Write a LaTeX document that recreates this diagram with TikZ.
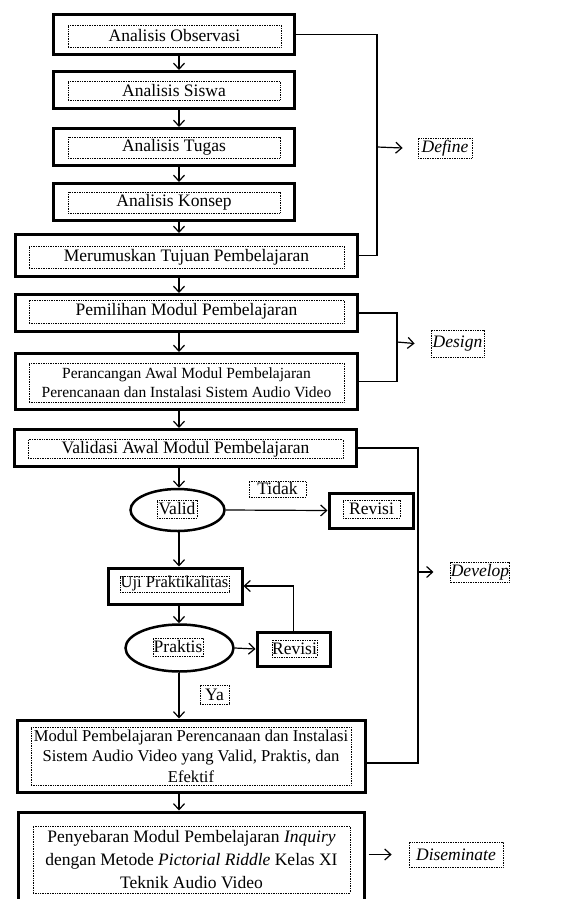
\documentclass[tikz,border=0pt]{standalone}
\usepackage{fontspec}
\setmainfont{Liberation Serif}
\usetikzlibrary{shapes.geometric,arrows.meta}

\begin{document}
\begin{tikzpicture}[x=1pt,y=-1pt,
    box/.style={rectangle,draw=black,line width=3pt,inner sep=0pt},
    txt/.style={rectangle,draw=black,line width=0.8pt,dash pattern=on 0.8pt off 0.9pt,inner sep=0pt,align=center,font=\fontsize{17.5}{20}\selectfont},
    dec/.style={ellipse,draw=black,line width=2.5pt,inner sep=0pt},
    phase/.style={txt,font=\fontsize{17.5}{20}\selectfont\itshape},
    arrow/.style={-{Straight Barb[length=6pt,width=11pt]},line width=1.2pt},
    line/.style={line width=1.2pt}
]
\clip (0,0) rectangle (575,899);
\fill[white] (0,0) rectangle (575,899);
\coordinate (axis) at (179,0);

% define
\node[box,minimum width=241pt,minimum height=40pt] (obs) at (174,34.5) {};
\node[txt,minimum width=213pt,minimum height=22pt] (obsT) at (174.5,36) {Analisis Observasi};
\node[box,minimum width=241pt,minimum height=37pt] (siswa) at (174,90) {};
\node[txt,minimum width=212pt,minimum height=19pt] (siswaT) at (174,90.5) {Analisis Siswa};
\node[box,minimum width=241pt,minimum height=37pt] (tugas) at (174,147) {};
\node[txt,minimum width=212pt,minimum height=21pt] (tugasT) at (174,147.5) {Analisis Tugas};
\node[box,minimum width=241pt,minimum height=37pt] (konsep) at (174,202) {};
\node[txt,minimum width=212pt,minimum height=21pt] (konsepT) at (174,202.5) {Analisis Konsep};
\node[box,minimum width=342pt,minimum height=42pt] (tujuan) at (186.5,255.5) {};
\node[txt,minimum width=315pt,minimum height=22pt] (tujuanT) at (186.5,257) {Merumuskan Tujuan Pembelajaran};

% design
\node[box,minimum width=342pt,minimum height=37pt] (pilih) at (186.5,313) {};
\node[txt,minimum width=315pt,minimum height=23pt] (pilihT) at (186.5,311.5) {Pemilihan Modul Pembelajaran};
\node[box,minimum width=342pt,minimum height=56pt] (rancang) at (186.5,381.5) {};
\node[txt,minimum width=315pt,minimum height=39pt,font=\fontsize{15.5}{19}\selectfont] (rancangT) at (186.5,382.5)
    {Perancangan Awal  Modul Pembelajaran\\Perencanaan dan Instalasi Sistem Audio Video};

% develop
\node[box,minimum width=342pt,minimum height=37pt] (validasi) at (185.5,448) {};
\node[txt,minimum width=315pt,minimum height=19pt] (validasiT) at (185.5,449) {Validasi Awal  Modul Pembelajaran};
\node[dec,minimum width=94pt,minimum height=42pt] (valid) at (177.5,510) {};
\node[txt,minimum width=40pt,minimum height=18pt] (validT) at (177,509) {Valid};
\node[txt,minimum width=57pt,minimum height=16pt] (tidak) at (277.5,489) {Tidak};
\node[box,minimum width=84pt,minimum height=35pt] (revisi1) at (371,510.5) {};
\node[txt,minimum width=57pt,minimum height=18pt] (revisi1T) at (371.5,509) {Revisi};
\node[box,minimum width=134pt,minimum height=36pt] (uji) at (175,586) {};
\node[txt,minimum width=109pt,minimum height=16pt,font=\fontsize{16.5}{20}\selectfont] (ujiT) at (174.5,584) {Uji Praktikalitas};
\node[dec,minimum width=108pt,minimum height=47pt] (praktis) at (179.5,648) {};
\node[txt,minimum width=50pt,minimum height=18pt] (praktisT) at (178,647) {Praktis};
\node[box,minimum width=73pt,minimum height=34pt] (revisi2) at (293.5,649) {};
\node[txt,minimum width=45pt,minimum height=17pt] (revisi2T) at (294.5,648.5) {Revisi};
\node[txt,minimum width=29pt,minimum height=19pt] (ya) at (214.5,694.5) {Ya};
\node[box,minimum width=348pt,minimum height=72pt] (hasil) at (191,756) {};
\node[txt,minimum width=320pt,minimum height=58pt,font=\fontsize{16.6}{20.5}\selectfont] (hasilT) at (191,756)
    {Modul Pembelajaran Perencanaan dan Instalasi\\Sistem Audio Video yang Valid, Praktis, dan\\Efektif};

% diseminate
\node[box,minimum width=346pt,minimum height=95pt] (sebar) at (191,859.5) {};
\node[txt,minimum width=317pt,minimum height=67pt,font=\fontsize{17.5}{23}\selectfont] (sebarT) at (191.5,859.5)
    {Penyebaran Modul Pembelajaran \textit{Inquiry}\\dengan Metode \textit{Pictorial Riddle} Kelas XI\\Teknik Audio Video};

% phase labels
\node[phase,minimum width=54pt,minimum height=20pt] (define) at (445,148) {Define};
\node[phase,minimum width=53pt,minimum height=27pt] (design) at (457.5,343.5) {Design};
\node[phase,minimum width=56pt,minimum height=20pt] (develop) at (480,572) {Develop};
\node[phase,minimum width=94pt,minimum height=25pt] (disem) at (456,854.5) {Diseminate};

% main flow
\draw[arrow] (obs.south -| axis) -- (siswa.north -| axis);
\draw[arrow] (siswa.south -| axis) -- (tugas.north -| axis);
\draw[arrow] (tugas.south -| axis) -- (konsep.north -| axis);
\draw[arrow] (konsep.south -| axis) -- (tujuan.north -| axis);
\draw[arrow] (tujuan.south -| axis) -- (pilih.north -| axis);
\draw[arrow] (pilih.south -| axis) -- (rancang.north -| axis);
\draw[arrow] (rancang.south -| axis) -- (validasi.north -| axis);
\draw[arrow] (validasi.south -| axis) -- (valid.north -| axis);
\draw[arrow] (valid.south -| axis) -- (uji.north -| axis);
\draw[arrow] (uji.south -| axis) -- (praktis.north -| axis);
\draw[arrow] (praktis.south -| axis) -- (hasil.north -| axis);
\draw[arrow] (hasil.south -| axis) -- (sebar.north -| axis);

% side branches
\draw[arrow] (valid.east) -- (revisi1.west);
\draw[arrow] (praktis.east) -- (revisi2.west);
\draw[arrow] (revisi2.north) |- (uji.east);

% brackets
\coordinate (kdef) at (377,147);
\coordinate (kdes) at (397,342);
\coordinate (kdev) at (418,572);
\draw[line] (obs.east) -| (kdef) |- (tujuan.east);
\draw[arrow] (kdef) -- ([xshift=-15pt]define.west);
\draw[line] (pilih.east) -| (kdes) |- (rancang.east);
\draw[arrow] (kdes) -- ([xshift=-16pt]design.west);
\draw[line] (validasi.east) -| (kdev) |- ([yshift=-7pt]hasil.east);
\draw[arrow] (kdev) -- ([xshift=-17pt]develop.west);
\draw[arrow] ([xshift=3pt]sebar.east |- disem.west) -- ([xshift=-17pt]disem.west);

\end{tikzpicture}
\end{document}
